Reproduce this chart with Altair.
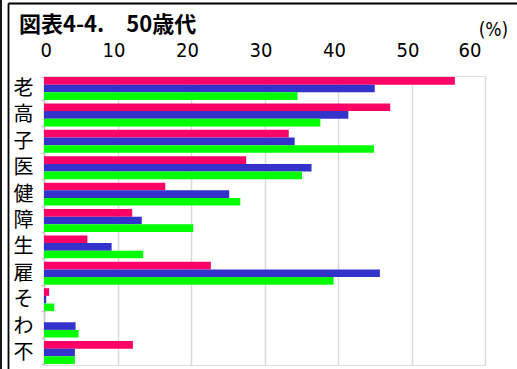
import altair as alt
import pandas as pd

# Category initials (rows, top to bottom) and the three series, in %
categories = ["老", "高", "子", "医", "健", "障", "生", "雇", "そ", "わ", "不"]
series_names = ["系列1", "系列2", "系列3"]
series_a = [55.9, 47.1, 33.3, 27.5, 16.5, 12.0, 5.9, 22.7, 0.7, 0.0, 12.1]
series_b = [45.0, 41.4, 34.1, 36.4, 25.2, 13.3, 9.2, 45.7, 0.3, 4.3, 4.2]
series_c = [34.5, 37.6, 44.9, 35.1, 26.7, 20.3, 13.5, 39.4, 1.4, 4.7, 4.2]
colors = ["#FF0066", "#3333CC", "#00FF00"]
title_text = "図表4-4.　50歳代"

rows = []
for name, vals in zip(series_names, [series_a, series_b, series_c]):
    for cat, v in zip(categories, vals):
        rows.append({"cat": cat, "series": name, "value": v})
df = pd.DataFrame(rows)

W, H = 441, 289
font_jp = "Noto Sans CJK JP"
font_num = "Liberation Sans Narrow, DejaVu Sans Condensed, sans-serif"

bars = alt.Chart(df).mark_bar().encode(
    x=alt.X(
        "value:Q",
        scale=alt.Scale(domain=[0, 60], nice=False),
        axis=alt.Axis(
            orient="top", values=[0, 10, 20, 30, 40, 50, 60], ticks=False,
            domain=False, grid=True, gridColor="#d9d9d9", gridWidth=1.5,
            labelFont=font_num, labelFontSize=20, labelColor="#000",
            labelPadding=20, labelBaseline="alphabetic", labelOffset=-4,
            title="(%)", titleFont=font_num, titleFontSize=19,
            titleFontWeight="normal", titleColor="#000",
            titleX=449, titleY=-47, titleAlign="center",
            titleBaseline="middle", titleAngle=0,
        ),
    ),
    y=alt.Y(
        "cat:N", sort=categories,
        scale=alt.Scale(paddingInner=0.13, paddingOuter=0.04),
        axis=alt.Axis(
            title=None, tickBand="extent", tickSize=3, tickColor="#c8c8c8",
            tickWidth=1.5, domainColor="#c8c8c8", domainWidth=1.5,
            labelFont=font_jp, labelFontSize=20, labelColor="#000",
            labelPadding=8, grid=False,
        ),
    ),
    yOffset=alt.YOffset("series:N", sort=series_names),
    color=alt.Color(
        "series:N", sort=series_names,
        scale=alt.Scale(domain=series_names, range=colors), legend=None,
    ),
)

# Chart heading
title_df = pd.DataFrame({"t": [title_text]})
heading = alt.Chart(title_df).mark_text(
    font=font_jp, fontSize=22, fontWeight="bold", color="#000",
    align="left", baseline="alphabetic",
).encode(text="t:N", x=alt.value(-25), y=alt.value(-44))

# Frame lines around the figure
frame_df = pd.DataFrame({"k": [0]})
left_outer = alt.Chart(frame_df).mark_rule(color="#000", strokeWidth=1.8).encode(
    x=alt.value(-43), y=alt.value(-80), y2=alt.value(H + 10)
)
left_inner = alt.Chart(frame_df).mark_rule(color="#000", strokeWidth=1.8).encode(
    x=alt.value(-35.5), y=alt.value(-72.5), y2=alt.value(H + 10)
)
top_line = alt.Chart(frame_df).mark_rule(color="#000", strokeWidth=1.8).encode(
    x=alt.value(-35.5), x2=alt.value(W + 40), y=alt.value(-72.5)
)

chart = alt.layer(bars, heading, left_outer, left_inner, top_line).properties(
    width=W, height=H,
    autosize=alt.AutoSizeParams(type="none"),
    padding={"left": 44, "top": 76, "right": 32, "bottom": 4},
).configure_view(stroke=None).configure(background="white")

chart.save("out.html", embed_options={"renderer": "svg", "actions": False})
